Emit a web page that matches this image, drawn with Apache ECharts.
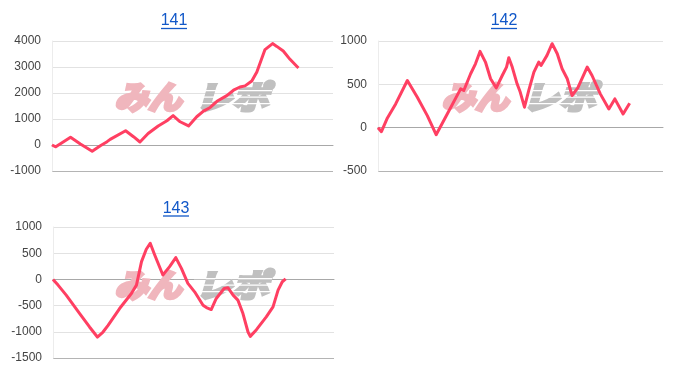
<!DOCTYPE html>
<html>
<head>
<meta charset="utf-8">
<script src="https://cdn.jsdelivr.net/npm/echarts@6/dist/echarts.min.js"></script>
<style>
html,body{margin:0;padding:0;background:#fff;}
#c{width:677px;height:370px;}
</style>
</head>
<body>
<div id="c"></div>
<script>
// ---- data ----
const titles = ['141', '142', '143'];

const s141X = [0, 1.35, 6.6, 10.1, 14.3, 17.2, 19.6, 20.7, 26.2, 29, 31.3, 34.2, 37.8, 40.9, 43.1, 45.6, 48.6, 51.5, 53.9, 56.3, 58.7, 62.2, 64.6, 66.9, 68.7, 71.1, 72.9, 75.8, 78.5, 80, 82.3, 84.7, 87.7];
const s141Y = [0, -70, 300, 40, -240, -26, 128, 217, 550, 319, 115, 440, 730, 932, 1130, 894, 735, 1086, 1303, 1443, 1680, 1900, 2107, 2230, 2273, 2462, 2810, 3670, 3900, 3793, 3615, 3295, 2960];

const s142X = [0, 1.2, 3.3, 6.2, 10.3, 13.8, 17.3, 20.4, 24.3, 29, 30.1, 32.5, 34.2, 35.8, 37.7, 39.5, 41.5, 43.6, 45.1, 45.9, 47.1, 48.8, 49.8, 51.4, 52.9, 54.7, 56.4, 57.2, 59.3, 61.1, 62.9, 64.6, 66.4, 68.1, 70.1, 73.4, 75.1, 78, 81, 83.1, 86, 88.3];
const s142Y = [0, -46, 112, 274, 544, 351, 139, -81, 158, 448, 429, 622, 737, 880, 757, 564, 459, 602, 699, 807, 699, 506, 421, 236, 429, 641, 757, 718, 834, 969, 853, 680, 564, 371, 459, 699, 602, 390, 216, 332, 158, 282];

const s143X = [0, 1.8, 4.7, 9.5, 13, 15.8, 17.8, 19.6, 23.7, 27.9, 29.7, 31.5, 33.2, 34.6, 36.2, 39.1, 41.5, 43.7, 45.7, 48, 50.4, 53.4, 54.6, 56.3, 58.1, 60.9, 62.3, 64.1, 65.8, 67.6, 69.4, 70.2, 72.4, 75.9, 78.3, 80.1, 81.6, 82.8];
const s143Y = [0, -109, -300, -652, -908, -1100, -1004, -876, -556, -269, -109, 339, 575, 690, 467, 83, 243, 416, 211, -77, -237, -492, -537, -575, -364, -173, -160, -300, -396, -652, -1004, -1087, -959, -716, -524, -205, -45, 10];

const yMins = [-1000, -500, -1500];
const yMaxs = [4000, 1000, 1000];
const yIntervals = [1000, 500, 500];

// ---- build ----
const seriesX = [s141X, s142X, s143X];
const seriesY = [s141Y, s142Y, s143Y];

const grids = [
  {left: 52, top: 41, width: 281, height: 130},
  {left: 378, top: 41, width: 285, height: 130},
  {left: 53, top: 227, width: 281, height: 131}
];
const titlePos = [{cx: 174, cy: 21, ul: 28.5}, {cx: 504, cy: 21, ul: 28.5}, {cx: 176, cy: 209, ul: 216}];
const wmPos = [{cx: 193, cy: 97}, {cx: 520, cy: 97}, {cx: 193, cy: 285}];

function pairs(xs, ys) { return xs.map((x, i) => [x, ys[i]]); }

const xAxis = [], yAxis = [], series = [], graphic = [];
for (let i = 0; i < 3; i++) {
  xAxis.push({
    type: 'value', gridIndex: i, min: 0, max: 100,
    axisLine: {show: true, onZero: true, lineStyle: {color: '#a8a8a8', width: 1}},
    axisTick: {show: false}, axisLabel: {show: false}, splitLine: {show: false}
  });
  const nLines = Math.round((yMaxs[i] - yMins[i]) / yIntervals[i]) + 1;
  const cols = ['#b4b4b4'];
  for (let k = 1; k < nLines; k++) cols.push('#e2e2e2');
  yAxis.push({
    type: 'value', gridIndex: i, min: yMins[i], max: yMaxs[i], interval: yIntervals[i],
    axisLine: {show: true, lineStyle: {color: '#ececec'}},
    axisTick: {show: false},
    axisLabel: {color: '#444', fontSize: 12, fontFamily: 'Liberation Sans, Arial, sans-serif', margin: 11,
      formatter: v => String(v)},
    splitLine: {show: true, lineStyle: {color: cols, width: 1}}
  });
  series.push({
    type: 'line', xAxisIndex: i, yAxisIndex: i, data: pairs(seriesX[i], seriesY[i]),
    showSymbol: false, symbol: 'none', smooth: false, z: 5,
    lineStyle: {color: '#ff3f62', width: 3, join: 'round'}
  });
  const tp = titlePos[i];
  graphic.push({
    type: 'text', z: 10, x: tp.cx, y: tp.cy,
    style: {text: titles[i], font: '16px "Liberation Sans", Arial, sans-serif', fill: '#1258c8', align: 'center', verticalAlign: 'middle'}
  });
  graphic.push({
    type: 'line', z: 10,
    shape: {x1: tp.cx - 13, y1: tp.ul, x2: tp.cx + 13, y2: tp.ul},
    style: {stroke: '#1258c8', lineWidth: 1.3}
  });
  const w = wmPos[i];
  graphic.push({
    type: 'text', z: 1, x: w.cx - 45, y: w.cy, scaleX: 1.05,
    style: {text: 'みん', font: 'italic bold 32px "Noto Sans CJK JP"', fill: '#f0b6bd', stroke: '#f0b6bd', lineWidth: 3.5, lineJoin: 'round', align: 'center', verticalAlign: 'middle'}
  });
  graphic.push({
    type: 'text', z: 1, x: w.cx + 39, y: w.cy, scaleX: 1.15,
    style: {text: 'レポ', font: 'italic bold 32px "Noto Sans CJK JP"', fill: '#c0c0c0', stroke: '#c0c0c0', lineWidth: 3.5, lineJoin: 'round', align: 'center', verticalAlign: 'middle'}
  });
  for (let s = 0; s < 3; s++) {
    graphic.push({
      type: 'rect', z: 1.5,
      shape: {x: w.cx + 1, y: w.cy - 7 + s * 6.5, width: 78, height: 1.2},
      style: {fill: '#ffffff'}
    });
  }
}

const chart = echarts.init(document.getElementById('c'), null, {renderer: 'canvas'});
chart.setOption({
  animation: false,
  backgroundColor: '#fff',
  grid: grids, xAxis, yAxis, series, graphic
});
</script>
</body>
</html>
